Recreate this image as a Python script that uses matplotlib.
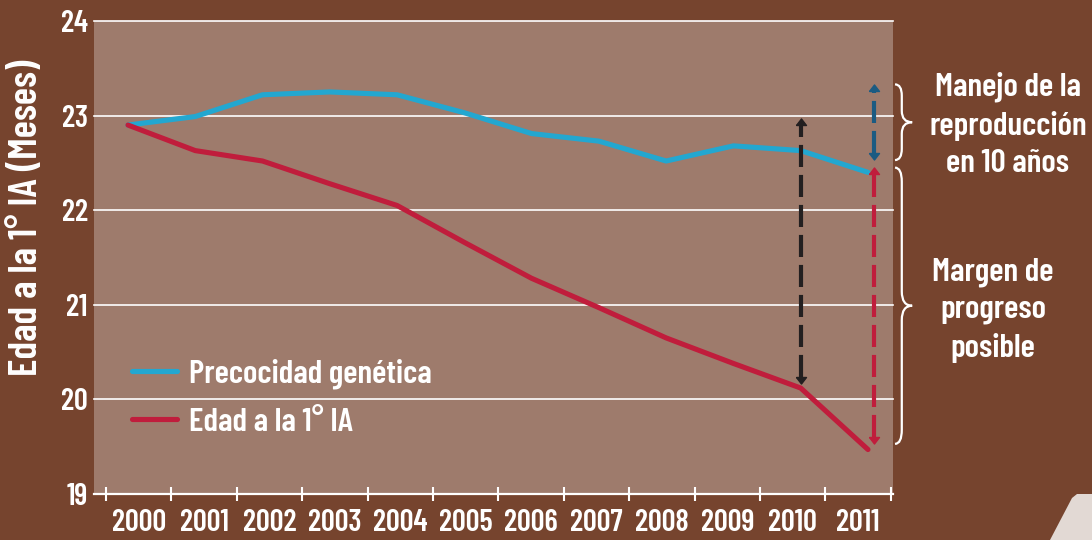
import numpy as np
import matplotlib
matplotlib.use("Agg")
import matplotlib.pyplot as plt
import matplotlib.transforms as mtransforms
from matplotlib import font_manager
from matplotlib.path import Path
from matplotlib.patches import PathPatch, Polygon

# pick a condensed font that is installed
names = {f.name for f in font_manager.fontManager.ttflist}
FONT = 'DejaVu Sans'
for cand in ['Barlow Condensed', 'Roboto Condensed', 'Oswald', 'Archivo Narrow',
             'PT Sans Narrow', 'Liberation Sans Narrow']:
    if cand in names:
        FONT = cand
        break
plt.rcParams['font.family'] = [FONT, 'DejaVu Sans']
plt.rcParams['font.weight'] = 600

# data
years = np.arange(2000, 2012)
year_labels = [str(y) for y in years]
precocidad = [22.90, 22.99, 23.22, 23.25, 23.22, 23.03, 22.81, 22.73, 22.52, 22.68, 22.63, 22.40]
edad_ia = [22.90, 22.63, 22.52, 22.28, 22.05, 21.66, 21.28, 20.97, 20.65, 20.38, 20.12, 19.47]

# double arrows: (year, low, high)
arrow_black = (2010, 20.24, 22.90)
arrow_blue = (2011, 22.60, 23.26)
arrow_red = (2011, 19.60, 22.38)

BG = '#76442e'
PANEL = '#9e7b6c'
BLUE = '#23a7d0'
RED = '#c01d3c'
DARKBLUE = '#1b5b82'
BLACK = '#231f20'

fig = plt.figure(figsize=(10.92, 5.4), dpi=100, facecolor=BG)
ax = fig.add_axes([94/1092, 1-494/540, 799/1092, 473/540])
ax.set_facecolor(PANEL)

ax.plot(years, precocidad, color=BLUE, lw=3.7, solid_capstyle='round', label='Precocidad genética', zorder=3)
ax.plot(years, edad_ia, color=RED, lw=3.7, solid_capstyle='round', label='Edad a la 1° IA', zorder=3)

head_up = [(-1, 0), (1, 0), (0, 1.3), (-1, 0)]
head_dn = [(-1, 0), (1, 0), (0, -1.3), (-1, 0)]

def dashed_arrow(x, lo, hi, color):
    ax.plot([x, x], [lo, hi], color=color, lw=3, ls=(0, (5.3, 1.9)), zorder=4)
    ax.plot([x], [hi], marker=head_up, ms=9.4, color=color, zorder=4)
    ax.plot([x], [lo], marker=head_dn, ms=9.4, color=color, zorder=4)

dashed_arrow(arrow_black[0], arrow_black[1], arrow_black[2], BLACK)
dashed_arrow(arrow_blue[0] + 0.09, arrow_blue[1], arrow_blue[2], DARKBLUE)
dashed_arrow(arrow_red[0] + 0.09, arrow_red[1], arrow_red[2], RED)

# axes styling
ax.set_xlim(1999.495, 2011.372)
ax.set_ylim(19, 24)
for s in ['left', 'right', 'top']:
    ax.spines[s].set_visible(False)
ax.spines['bottom'].set_color('white')
ax.spines['bottom'].set_linewidth(1.6)

ax.set_yticks(range(19, 25))
ax.set_yticklabels([str(v) for v in range(19, 25)])
ax.tick_params(axis='y', length=0, pad=4.5, labelcolor='white', labelsize=22)
ax.grid(axis='y', color='white', lw=1.2)
ax.set_axisbelow(True)
for gl in ax.get_ygridlines():
    gl.set_clip_on(False)

label_step = 0.972
label_pos = 2000.16 + label_step * np.arange(len(years))
tick_pos = label_pos[0] - label_step / 2 + label_step * np.arange(len(years) + 1)
ax.set_xticks(tick_pos)
ax.set_xticklabels([''] * len(tick_pos))
ax.set_xticks(label_pos, minor=True)
ax.set_xticklabels(year_labels, minor=True)
ax.tick_params(axis='x', which='major', direction='inout', length=9.4, width=1.5, color='white')
ax.tick_params(axis='x', which='minor', length=0, pad=10.5, labelcolor='white', labelsize=22)

leg = ax.legend(loc='lower left', bbox_to_anchor=(0.0476, 0.121), frameon=False,
                prop=dict(family=[FONT, 'DejaVu Sans'], weight=600, size=24),
                handlelength=1.35, handletextpad=0.36, labelspacing=0.55,
                borderpad=0, borderaxespad=0, labelcolor='white')

# braces on the right
trans = mtransforms.blended_transform_factory(ax.transAxes, ax.transData)

def brace(y_top, y_bot, x0=1.0025, xb=1.011, x1=1.024):
    h = y_top - y_bot
    ym = (y_top + y_bot) / 2
    q = min(0.15 * h, 0.15)
    verts = [(x0, y_top), (xb, y_top), (xb, y_top - q), (xb, ym + q), (xb, ym), (x1, ym),
             (xb, ym), (xb, ym - q), (xb, y_bot + q), (xb, y_bot), (x0, y_bot)]
    codes = [Path.MOVETO, Path.CURVE3, Path.CURVE3, Path.LINETO, Path.CURVE3, Path.CURVE3,
             Path.CURVE3, Path.CURVE3, Path.LINETO, Path.CURVE3, Path.CURVE3]
    ax.add_patch(PathPatch(Path(verts, codes), transform=trans, fill=False,
                           ec='white', lw=1.6, clip_on=False))

brace(arrow_blue[2] + 0.07, arrow_blue[1] - 0.07)
brace(arrow_red[2] + 0.07, arrow_red[1] - 0.07)

fig.text(1008/1092, 1 - 125/540, 'Manejo de la\nreproducción\nen 10 años', color='white',
         fontsize=24, ha='center', va='center', linespacing=1.37)
fig.text(993/1092, 1 - 310/540, 'Margen de\nprogreso\nposible', color='white',
         fontsize=24, ha='center', va='center', linespacing=1.35)

fig.text(27/1092, 1 - 218/540, 'Edad a la 1° IA (Meses)', color='white', fontsize=29,
         rotation=90, ha='center', va='center')

# page corner shape
corner = [(1050, 540), (1072, 498), (1077, 494), (1092, 494), (1092, 540)]
fig.add_artist(Polygon([(x/1092, 1 - y/540) for x, y in corner], closed=True,
                       transform=fig.transFigure, fc='#e2d9d4', ec='none'))

fig.savefig('out.png', dpi=100, facecolor=BG)
